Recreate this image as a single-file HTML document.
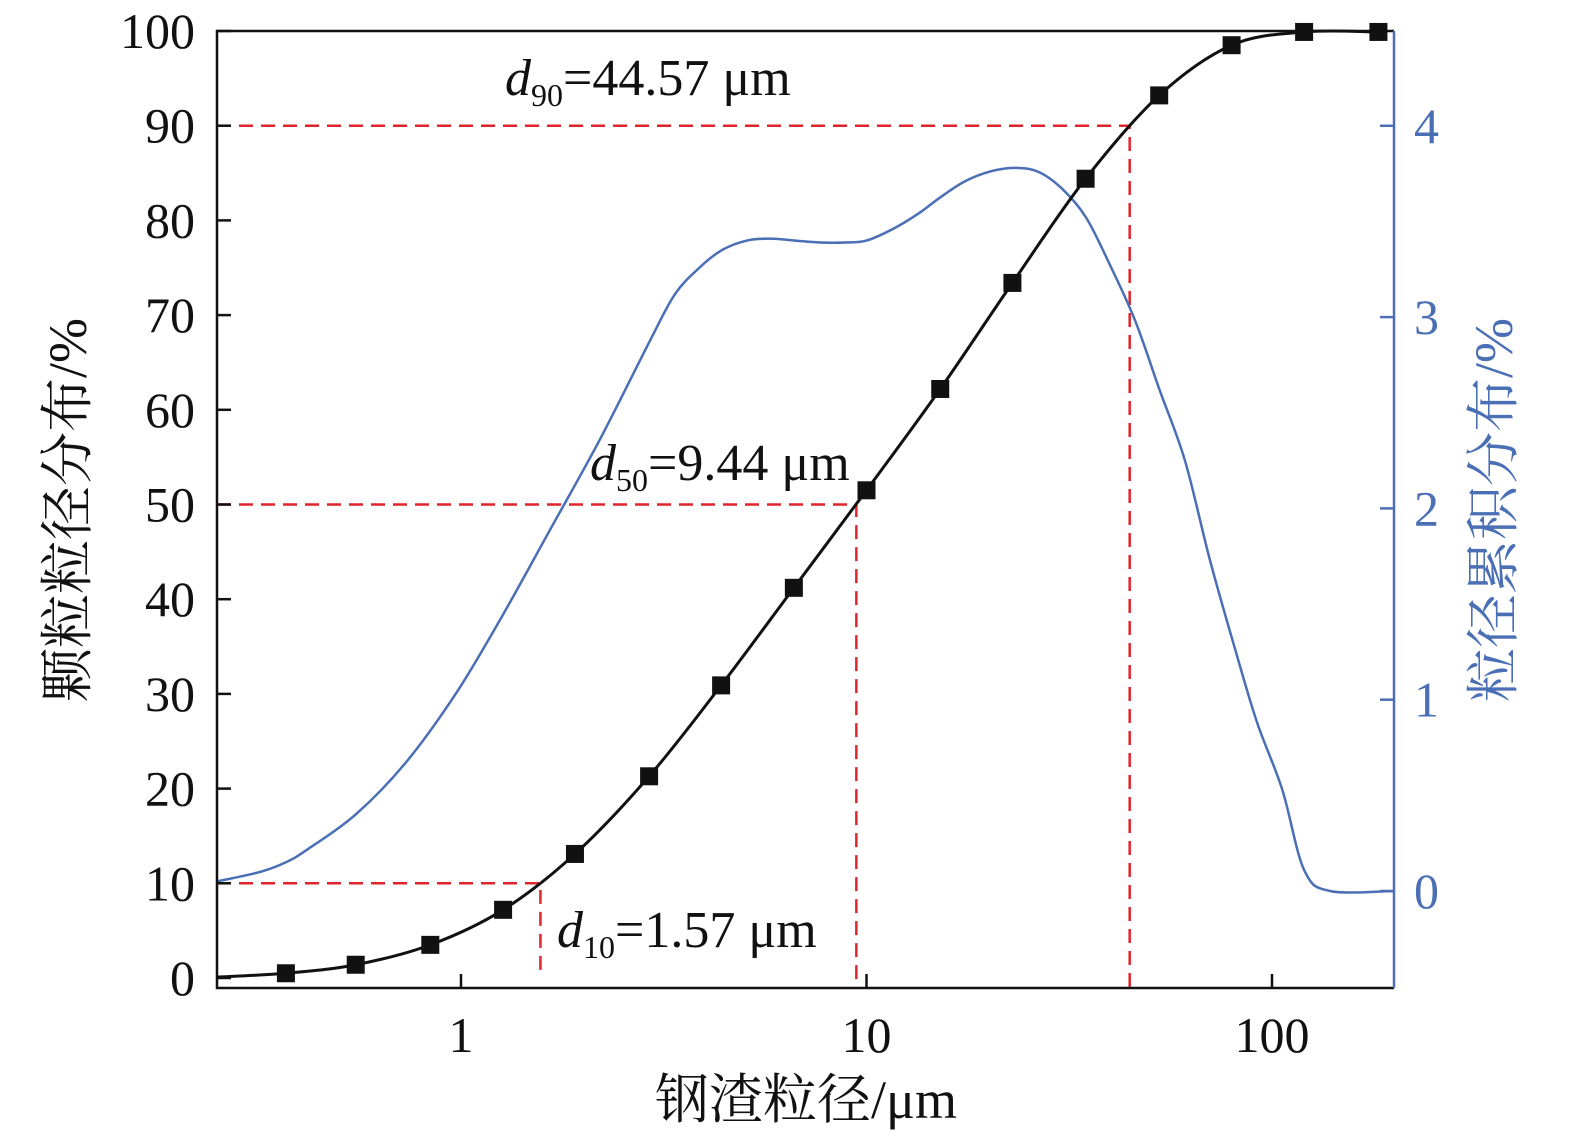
<!DOCTYPE html>
<html><head><meta charset="utf-8"><style>
body{margin:0;background:#fff}
svg text{font-family:"Liberation Serif","Noto Serif CJK SC",serif}
</style></head><body>
<svg id="c" width="1575" height="1140" xmlns="http://www.w3.org/2000/svg"></svg>
<script>
const xTicks=[1,10,100];
const yLeftTicks=[0,10,20,30,40,50,60,70,80,90,100];
const yRightTicks=[0,1,2,3,4];
const cumX=[0.37,0.55,0.84,1.27,1.91,2.91,4.38,6.62,10.0,15.2,22.9,34.7,52.7,79.5,120,183];
const cumY=[0.5,1.4,3.5,7.2,13.1,21.3,30.9,41.2,51.5,62.2,73.4,84.4,93.2,98.5,99.9,99.9];
const distX=[0.25,0.32,0.37,0.42,0.55,0.73,0.97,1.25,1.66,2.2,2.93,3.37,3.88,4.4,5.07,5.78,6.66,7.68,8.86,10,11.6,13.4,15.3,17.5,20.1,23.1,26.5,30.4,34.8,39.9,46,52.8,61,70.3,81.2,91.9,106,120,139,200];
const distY=[0.05,0.1,0.15,0.22,0.4,0.67,1.03,1.42,1.89,2.36,2.88,3.12,3.26,3.35,3.4,3.41,3.4,3.39,3.39,3.4,3.46,3.54,3.63,3.71,3.76,3.78,3.76,3.67,3.52,3.27,2.98,2.62,2.25,1.73,1.26,0.88,0.53,0.11,0,0];
const dVals=[1.57,9.44,44.57];
const dPct=[10,50,90];
const dLabels=["10","50","90"];

const L=217,R=1394,T=31,B=988,BLUE="#4a6fb5";
const sx=v=>461+405.5*Math.log10(v);
const syL=v=>978-9.47*v;
const syR=v=>891-191.3*v;
const svg=document.getElementById('c');
const NS="http://www.w3.org/2000/svg";
function mk(t,a,txt){const e=document.createElementNS(NS,t);for(const k in a)e.setAttribute(k,a[k]);if(txt!==undefined)e.textContent=txt;svg.appendChild(e);return e;}
function smooth(pts){let d=`M${pts[0][0]},${pts[0][1]}`;for(let i=0;i<pts.length-1;i++){const p0=pts[Math.max(0,i-1)],p1=pts[i],p2=pts[i+1],p3=pts[Math.min(pts.length-1,i+2)];d+=`C${p1[0]+(p2[0]-p0[0])/6},${p1[1]+(p2[1]-p0[1])/6} ${p2[0]-(p3[0]-p1[0])/6},${p2[1]-(p3[1]-p1[1])/6} ${p2[0]},${p2[1]}`;}return d;}

dVals.forEach((v,i)=>{
 let e=mk('path',{d:`M${L},${syL(dPct[i])}H${sx(v)}V${i==0?972:B}`,fill:'none',stroke:'#e0242b','stroke-width':2.5,'stroke-dasharray':'14,8'});
 
});
let bp=distX.map((x,i)=>[sx(x),syR(distY[i])]);
let e=mk('path',{d:smooth(bp),fill:'none',stroke:BLUE,'stroke-width':2.5});

let cp=[[sx(0.25),syL(0.1)]].concat(cumX.map((x,i)=>[sx(x),syL(cumY[i])]));
e=mk('path',{d:smooth(cp),fill:'none',stroke:'#111','stroke-width':3});

cumX.forEach((x,i)=>{let r=mk('rect',{x:sx(x)-9,y:syL(cumY[i])-9,width:18,height:18,fill:'#111'});
});
mk('path',{d:`M${R},${T}H${L}V${B}H${R}`,fill:'none',stroke:'#111','stroke-width':2.5});
e=mk('line',{x1:R,y1:T,x2:R,y2:B,stroke:BLUE,'stroke-width':2.5});

yLeftTicks.forEach(v=>{mk('line',{x1:L,x2:L+14,y1:syL(v),y2:syL(v),stroke:'#111','stroke-width':2.5});
 let t=mk('text',{x:L-22,y:syL(v)+17,'font-size':50,'text-anchor':'end',fill:'#111'},v);
 });
yRightTicks.forEach(v=>{mk('line',{x1:R-14,x2:R,y1:syR(v),y2:syR(v),stroke:BLUE,'stroke-width':2.5});
 let t=mk('text',{x:R+20,y:syR(v)+17,'font-size':50,fill:BLUE},v);
 });
xTicks.forEach(v=>{mk('line',{x1:sx(v),x2:sx(v),y1:B,y2:B-14,stroke:'#111','stroke-width':2.5});
 let t=mk('text',{x:sx(v),y:B+64,'font-size':50,'text-anchor':'middle',fill:'#111'},v);
 });
const ann=[[557,947],[590,480],[505,95]];
dVals.forEach((v,i)=>{let t=mk('text',{x:ann[i][0],y:ann[i][1],'font-size':52,fill:'#111'});
 t.innerHTML=`<tspan font-style="italic">d</tspan><tspan font-size="32" dy="11">${dLabels[i]}</tspan><tspan dy="-11">=${v} μm</tspan>`;
 });
e=mk('text',{x:806,y:1118,'font-size':54,'text-anchor':'middle',fill:'#111'},'钢渣粒径/μm');

e=mk('text',{x:0,y:0,'font-size':54,'text-anchor':'middle',fill:'#111',transform:'translate(86,510) rotate(-90)'},'颗粒粒径分布/%');

e=mk('text',{x:0,y:0,'font-size':54,'text-anchor':'middle',fill:BLUE,transform:'translate(1512,510) rotate(-90)'},'粒径累积分布/%');

</script>
</body></html>
